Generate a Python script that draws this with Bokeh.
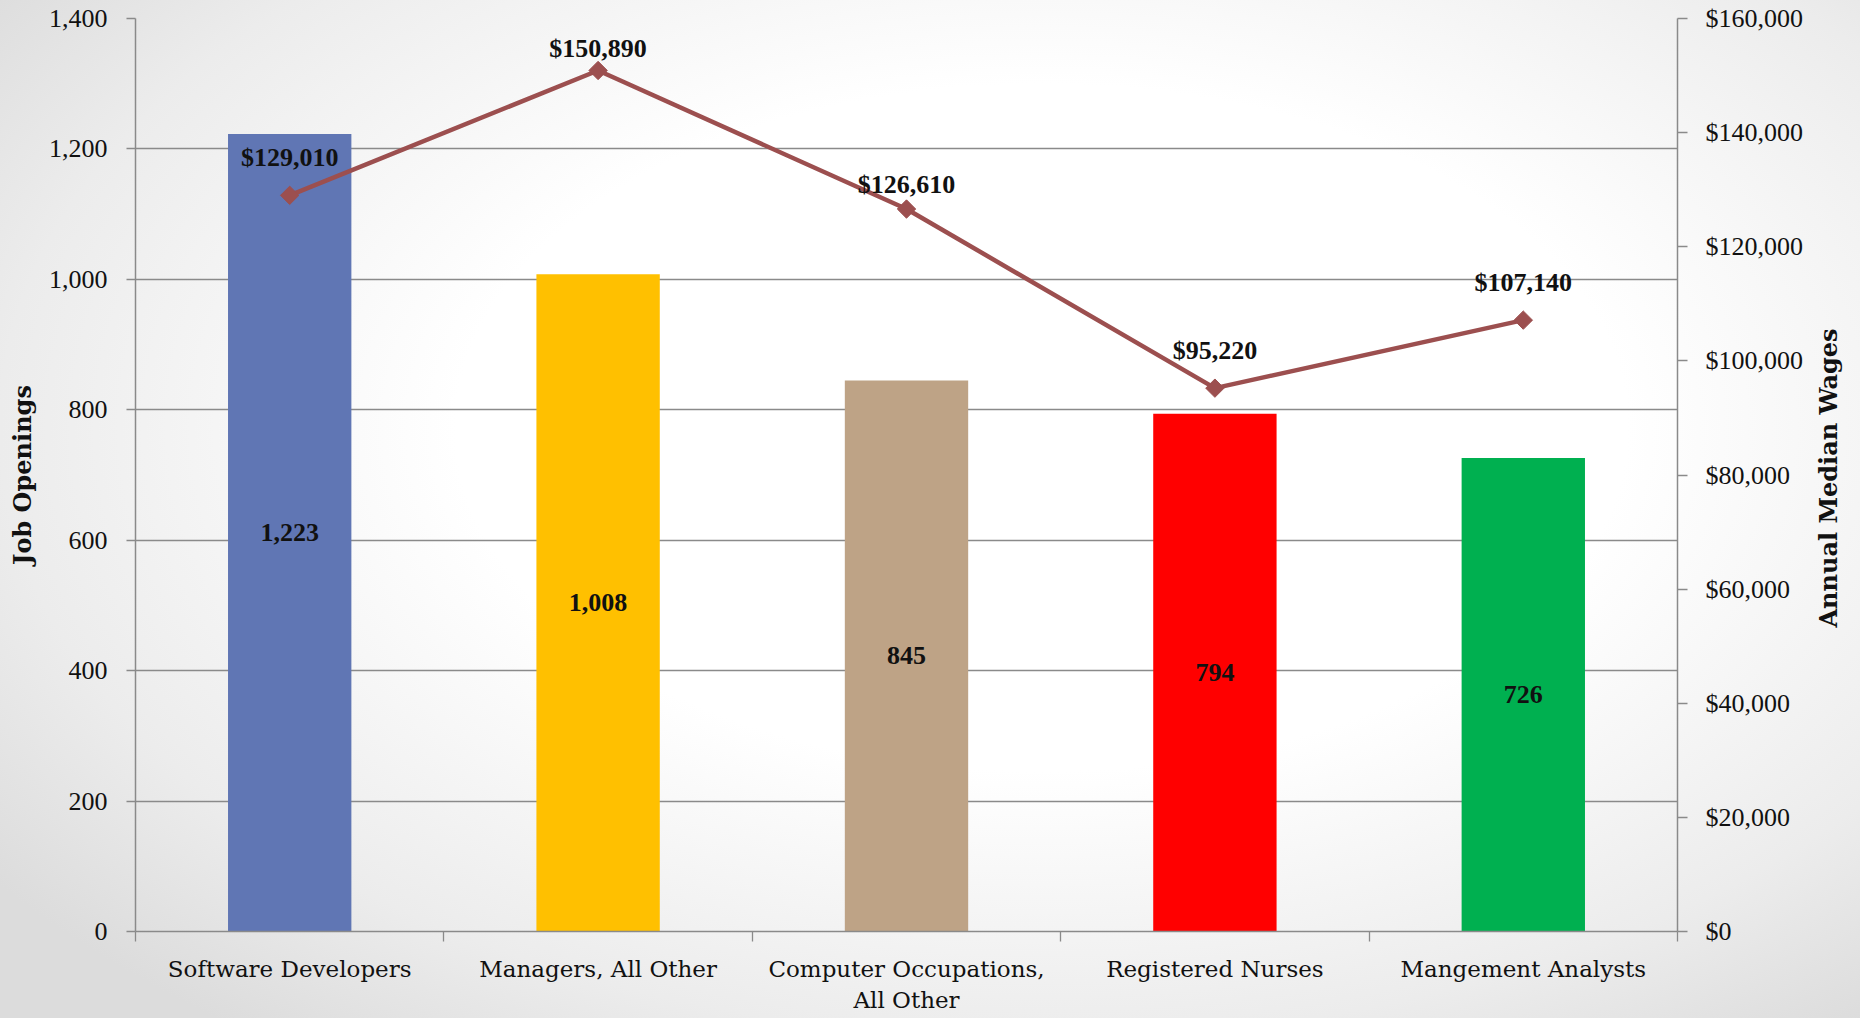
import math
from bokeh.plotting import figure
from bokeh.models import (ColumnDataSource, Range1d, LinearAxis, FixedTicker,
                          NumeralTickFormatter, LabelSet)
from bokeh.embed import file_html
from bokeh.resources import INLINE
from bokeh.core.properties import value

# ---------------- data ----------------
categories = ["Software Developers", "Managers, All Other",
              "Computer Occupations,\nAll Other", "Registered Nurses",
              "Mangement Analysts"]
job_openings = [1223, 1008, 845, 794, 726]
median_wages = [129010, 150890, 126610, 95220, 107140]
left_ticks = [0, 200, 400, 600, 800, 1000, 1200, 1400]
right_ticks = [0, 20000, 40000, 60000, 80000, 100000, 120000, 140000, 160000]
right_title = "Annual Median Wages"

# ---------------- style ----------------
bar_colors = ["#6076b4", "#ffc000", "#bea386", "#ff0000", "#00b050"]
wage_label_lift = [29, 13, 16, 29, 29]   # px above the marker (baseline)
LINE_COLOR = "#9c4f4f"
AXIS_GRAY = "#8a8a8a"
SERIF_TXT = "DejaVu Serif"
SERIF_NUM = "Liberation Serif"

n = len(categories)
xs = list(range(n))
src = ColumnDataSource(dict(
    x=xs,
    jobs=job_openings,
    half=[v / 2 for v in job_openings],
    wage=median_wages,
    color=bar_colors,
    job_text=[f"{v:,}" for v in job_openings],
    wage_text=[f"${w:,}" for w in median_wages],
    lift=wage_label_lift,
))

W, H = 1860, 1018
FL, FT, FR, FB = 135, 18, 1678, 931   # frame edges on the page
FH = FB - FT
p = figure(width=W, height=H, output_backend="svg", toolbar_location=None,
           x_range=Range1d(-0.5, n - 0.5), y_range=Range1d(0, 1400),
           min_border_left=FL, min_border_right=W - FR,
           min_border_top=FT, min_border_bottom=H - FB)
p.extra_y_ranges = {"wages": Range1d(0, 160000), "px": Range1d(0, FH)}

p.background_fill_color = None
p.border_fill_color = None
p.outline_line_color = None
p.styles = {"background": "radial-gradient(ellipse 70% 75% at 56% 42%, #ffffff 45%, #ececec 80%, #dcdcdc 100%)"}

# bars
p.vbar(x="x", top="jobs", width=0.4, color="color", line_color=None, source=src)

# wages line + markers
p.line(x="x", y="wage", y_range_name="wages", line_color=LINE_COLOR,
       line_width=4.5, source=src)
p.scatter(x="x", y="wage", y_range_name="wages", marker="square", angle=0.785398,
          size=13, fill_color=LINE_COLOR, line_color=LINE_COLOR, source=src)

# labels
p.add_layout(LabelSet(x="x", y="half", text="job_text", source=src,
                      text_align="center", text_baseline="middle",
                      text_font=value(SERIF_NUM), text_font_style="bold",
                      text_font_size="26px", text_color="#111111"))
p.add_layout(LabelSet(x="x", y="wage", y_range_name="wages", text="wage_text",
                      source=src, y_offset="lift",
                      text_align="center", text_baseline="alphabetic",
                      text_font=value(SERIF_NUM), text_font_style="bold",
                      text_font_size="26px", text_color="#111111"))

# grid
p.xgrid.visible = False
p.ygrid.ticker = FixedTicker(ticks=left_ticks)
p.ygrid.grid_line_color = AXIS_GRAY
p.ygrid.grid_line_width = 1.3

# x axis
xa = p.xaxis[0]
xa.ticker = FixedTicker(ticks=xs, minor_ticks=[i - 0.5 for i in range(n + 1)])
xa.major_label_overrides = {i: c for i, c in enumerate(categories)}
xa.major_tick_out = 0
xa.major_tick_in = 0
xa.minor_tick_out = 10
xa.minor_tick_in = 0
xa.minor_tick_line_color = AXIS_GRAY
xa.minor_tick_line_width = 1.3
xa.axis_line_color = AXIS_GRAY
xa.axis_line_width = 1.5
xa.major_label_text_font = SERIF_TXT
xa.major_label_text_font_size = "23px"
xa.major_label_text_color = "#111111"
xa.major_label_standoff = 14

# left axis
ya = p.yaxis[0]
ya.ticker = FixedTicker(ticks=left_ticks)
ya.formatter = NumeralTickFormatter(format="0,0")
ya.minor_tick_out = 0
ya.minor_tick_in = 0
ya.major_tick_out = 9
ya.major_tick_in = 0
ya.major_tick_line_color = AXIS_GRAY
ya.major_tick_line_width = 1.3
ya.axis_line_color = AXIS_GRAY
ya.axis_line_width = 1.5
ya.major_label_text_font = SERIF_NUM
ya.major_label_text_font_size = "26px"
ya.major_label_text_color = "#111111"
ya.major_label_standoff = 19
ya.axis_label = "Job Openings"
ya.axis_label_text_font = SERIF_TXT
ya.axis_label_text_font_style = "bold"
ya.axis_label_text_font_size = "24px"
ya.axis_label_text_color = "#111111"
ya.axis_label_standoff = 9

# right axis
ra = LinearAxis(y_range_name="wages", ticker=FixedTicker(ticks=right_ticks),
                formatter=NumeralTickFormatter(format="$0,0"))
ra.minor_tick_out = 0
ra.minor_tick_in = 0
ra.major_tick_out = 10
ra.major_tick_in = 0
ra.major_tick_line_color = AXIS_GRAY
ra.major_tick_line_width = 1.3
ra.axis_line_color = AXIS_GRAY
ra.axis_line_width = 1.5
ra.major_label_text_font = SERIF_NUM
ra.major_label_text_font_size = "26px"
ra.major_label_text_color = "#111111"
ra.major_label_standoff = 18
p.add_layout(ra, "right")

# right-hand title, reading bottom-to-top: a label-only axis whose single tick
# sits where the title starts (px above the frame bottom)
TITLE_START = 304
ta = LinearAxis(y_range_name="px", ticker=FixedTicker(ticks=[TITLE_START]),
                major_label_overrides={TITLE_START: right_title},
                major_label_orientation=math.pi / 2)
ta.axis_line_color = None
ta.major_tick_line_color = None
ta.minor_tick_line_color = None
ta.major_tick_out = 0
ta.major_tick_in = 0
ta.minor_tick_out = 0
ta.minor_tick_in = 0
ta.major_label_text_font = SERIF_TXT
ta.major_label_text_font_style = "bold"
ta.major_label_text_font_size = "24px"
ta.major_label_text_color = "#111111"
ta.major_label_standoff = 22
p.add_layout(ta, "right")

open("out.html", "w").write(file_html(p, INLINE))
